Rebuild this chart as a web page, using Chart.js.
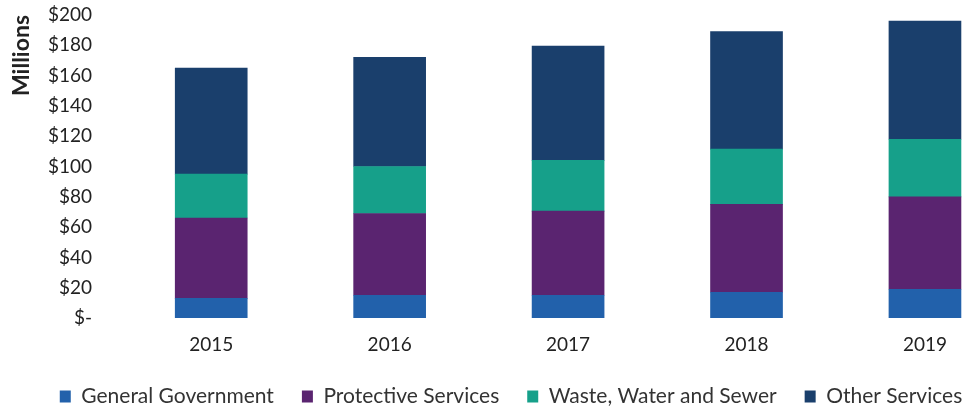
<!DOCTYPE html>
<html>
<head>
<meta charset="utf-8">
<script src="https://cdn.jsdelivr.net/npm/chart.js@4.4.1/dist/chart.umd.min.js"></script>
<style>
  html, body { margin: 0; padding: 0; background: #fff; overflow: hidden; }
  #wrap { width: 966px; height: 417px; }
</style>
</head>
<body>
<div id="wrap"><canvas id="costChart"></canvas></div>
<script>
// values in $ millions
const years = [2015, 2016, 2017, 2018, 2019];
const generalGovernment = [13, 15, 15, 17, 19];
const protectiveServices = [53, 54, 55.5, 58, 61];
const wasteWaterSewer = [29, 31, 33.5, 36.5, 38];
const otherServices = [70, 72, 75.5, 77.5, 78];
const yTicks = [0, 20, 40, 60, 80, 100, 120, 140, 160, 180, 200];

const FONT = 'Lato';

function toPoints(values) {
  return years.map((yr, i) => ({ x: yr, y: values[i] }));
}

function makeSet(label, values, color) {
  return {
    label: label,
    data: toPoints(values),
    backgroundColor: color,
    borderWidth: 0,
    barThickness: 72
  };
}

// nudge the legend row right, the scan has it off-centre
const legendShift = {
  id: 'legendShift',
  afterLayout(chart) {
    chart.legend.left += 28;
    chart.legend.right += 28;
  }
};

document.addEventListener('DOMContentLoaded', function () {
  const ctx = document.getElementById('costChart').getContext('2d');
  new Chart(ctx, {
    type: 'bar',
    data: {
      datasets: [
        makeSet('General Government', generalGovernment, '#2261ab'),
        makeSet('Protective Services', protectiveServices, '#5a2470'),
        makeSet('Waste, Water and Sewer', wasteWaterSewer, '#16a08a'),
        makeSet('Other Services', otherServices, '#1a3f6c')
      ]
    },
    plugins: [legendShift],
    options: {
      responsive: true,
      maintainAspectRatio: false,
      animation: false,
      layout: { padding: { top: 15, right: 0, left: 0, bottom: 0 } },
      scales: {
        x: {
          type: 'linear',
          stacked: true,
          offset: false,
          min: 2014.5,
          max: 2019.23,
          grid: { display: false, drawTicks: false },
          border: { display: false },
          afterFit: (s) => { s.height = 40; },
          ticks: {
            stepSize: 1,
            includeBounds: false,
            maxRotation: 0,
            padding: 15,
            color: '#222',
            font: { family: FONT, size: 19 },
            callback: (v) => (years.includes(v) ? String(v) : '')
          }
        },
        y: {
          stacked: true,
          min: 0,
          max: 200,
          afterBuildTicks: (axis) => { axis.ticks = yTicks.map(v => ({ value: v })); },
          afterFit: (s) => { s.width = 122; s.paddingTop = 12; s.paddingBottom = 12; },
          grid: { display: false, drawTicks: false },
          border: { display: false },
          ticks: {
            autoSkip: false,
            padding: 30,
            color: '#222',
            font: { family: FONT, size: 19 },
            callback: (v) => (v === 0 ? '$-' : '$' + v)
          },
          title: {
            display: true,
            text: 'Millions',
            align: 'end',
            color: '#222',
            padding: { top: 8, bottom: 10 },
            font: { family: FONT, size: 23, weight: 'bold' }
          }
        }
      },
      plugins: {
        tooltip: { enabled: false },
        legend: {
          position: 'bottom',
          labels: {
            boxWidth: 11,
            boxHeight: 12,
            padding: 28,
            color: '#333',
            font: { family: FONT, size: 21 }
          }
        }
      }
    }
  });
});
</script>
</body>
</html>
